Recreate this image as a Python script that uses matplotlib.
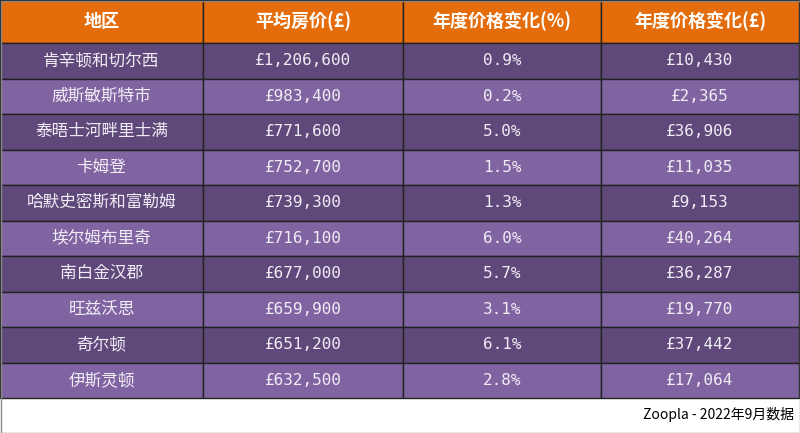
import matplotlib
matplotlib.use("Agg")
import matplotlib.pyplot as plt
from matplotlib.patches import Rectangle
from matplotlib import font_manager as fm

headers = ["地区", "平均房价(£)", "年度价格变化(%)", "年度价格变化(£)"]
regions = ["肯辛顿和切尔西", "威斯敏斯特市", "泰晤士河畔里士满", "卡姆登", "哈默史密斯和富勒姆",
           "埃尔姆布里奇", "南白金汉郡", "旺兹沃思", "奇尔顿", "伊斯灵顿"]
avg_price = ["£1,206,600", "£983,400", "£771,600", "£752,700", "£739,300",
             "£716,100", "£677,000", "£659,900", "£651,200", "£632,500"]
pct_change = ["0.9%", "0.2%", "5.0%", "1.5%", "1.3%", "6.0%", "5.7%", "3.1%", "6.1%", "2.8%"]
abs_change = ["£10,430", "£2,365", "£36,906", "£11,035", "£9,153",
              "£40,264", "£36,287", "£19,770", "£37,442", "£17,064"]
footer = "Zoopla - 2022年9月数据"

cjk_files = [f for f in fm.findSystemFonts() if "CJK" in f]
reg = [f for f in cjk_files if "Regular" in f] or cjk_files
bold = [f for f in cjk_files if "Bold" in f] or reg
if reg:
    fp = fm.FontProperties(fname=reg[0])
    fpb = fm.FontProperties(fname=bold[0], weight="bold")
else:
    fp = fm.FontProperties(family="Noto Sans CJK SC")
    fpb = fm.FontProperties(family="Noto Sans CJK SC", weight="bold")

W, H = 800, 433
fig = plt.figure(figsize=(8, 4.33), dpi=100)
ax = fig.add_axes([0, 0, 1, 1])
ax.set_xlim(0, W); ax.set_ylim(H, 0); ax.axis("off")

cols = [0, 203, 403, 601, 799]
head_h = 43
row_h = (398 - head_h) / 10

for c in range(4):
    ax.add_patch(Rectangle((cols[c], 0), cols[c+1]-cols[c], head_h, facecolor="#E46C0A",
                           edgecolor="#222222", lw=1))
    t = ax.text((cols[c]+cols[c+1])/2, head_h/2, headers[c], color="white", ha="center",
                va="center", fontproperties=fpb)
    t.set_fontsize(13)

for r in range(10):
    y0 = head_h + r*row_h
    color = "#5F497A" if r % 2 == 0 else "#8064A2"
    vals = [regions[r], avg_price[r], pct_change[r], abs_change[r]]
    for c in range(4):
        ax.add_patch(Rectangle((cols[c], y0), cols[c+1]-cols[c], row_h, facecolor=color,
                               edgecolor="#222222", lw=1))
        if c == 0:
            t = ax.text((cols[c]+cols[c+1])/2, y0+row_h/2, vals[c], color="#F0ECF5",
                        ha="center", va="center", fontproperties=fp)
            t.set_fontsize(12)
        else:
            ax.text((cols[c]+cols[c+1])/2, y0+row_h/2, vals[c], color="#F0ECF5", ha="center",
                    va="center", fontsize=11.5, family="DejaVu Sans Mono")

ax.add_patch(Rectangle((0.5, 0.5), W-1, H-1, facecolor="none", edgecolor="#888888", lw=1))
t = ax.text(794, 415, footer, ha="right", va="center", fontproperties=fp)
t.set_fontsize(10)

fig.savefig("out.png", dpi=100)
